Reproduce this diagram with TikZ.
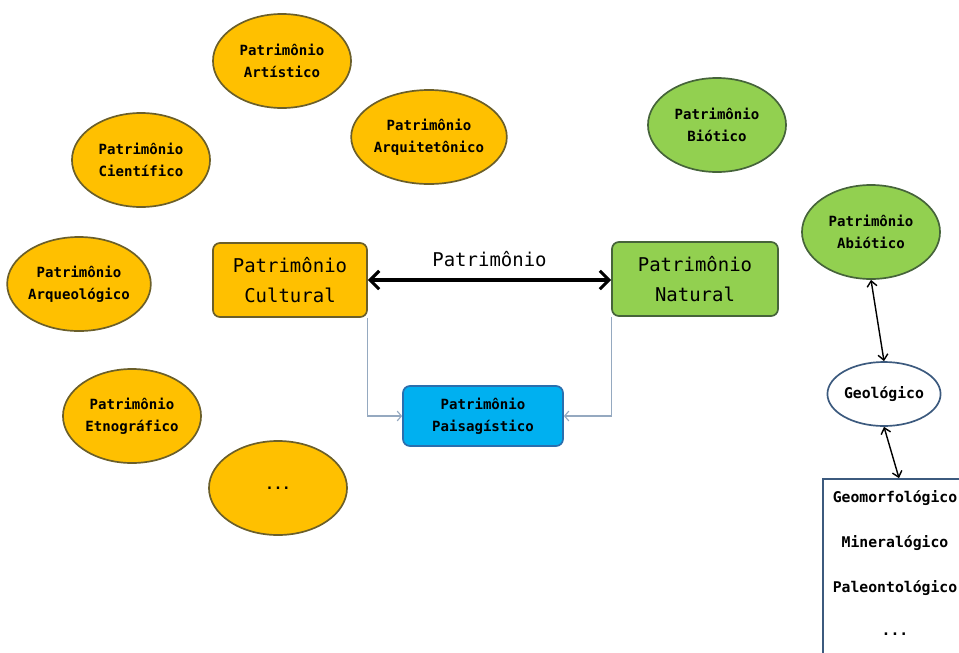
\documentclass[tikz,border=0pt]{standalone}
\usepackage{fontspec}
\newfontfamily\consfont{DejaVu Sans Mono}
\usetikzlibrary{shapes.geometric,arrows.meta}

\definecolor{laranja}{HTML}{FFC000}
\definecolor{bordaLaranja}{HTML}{6B5F2A}
\definecolor{verde}{HTML}{92D050}
\definecolor{bordaVerde}{HTML}{46643A}
\definecolor{azul}{HTML}{00B0F0}
\definecolor{bordaAzul}{HTML}{2A6FAE}
\definecolor{bordaGeo}{HTML}{3C5A7E}
\definecolor{ligacao}{HTML}{95A9C0}

\begin{document}
\begin{tikzpicture}[x=0.025cm, y=-0.025cm,
  elipse/.style={ellipse, draw=bordaLaranja, line width=1.2pt, fill=laranja,
    minimum width=3.45cm, minimum height=2.35cm, inner sep=0pt, align=center,
    font=\consfont\bfseries\fontsize{10}{16}\selectfont},
  elipseVerde/.style={elipse, draw=bordaVerde, fill=verde},
  caixa/.style={rectangle, rounded corners=5pt, line width=1.2pt, align=center,
    minimum height=1.85cm, font=\consfont\fontsize{13.5}{21}\selectfont},
  item/.style={font=\consfont\bfseries\fontsize{10.5}{12}\selectfont},
  dupla/.style={{Straight Barb[length=6.5pt,width=13pt]}-{Straight Barb[length=6.5pt,width=13pt]}, line width=2.2pt},
  simples/.style={{Straight Barb[length=4pt,width=7pt]}-{Straight Barb[length=4pt,width=7pt]}, line width=1pt},
  ligacaoSeta/.style={-{Straight Barb[length=3pt,width=7pt]}, draw=ligacao, line width=0.8pt}]
\useasboundingbox (0,0) rectangle (959,652);
\clip (0,0) rectangle (959,652);

% Patrimonio cultural
\node[elipse] (art) at (282,61) {Patrimônio\\Artístico};
\node[elipse] (cien) at (141,160) {Patrimônio\\Científico};
\node[elipse] (arq) at (429,137) {Patrimônio\\Arquitetônico};
\node[elipse] (arqueo) at (79,284) {Patrimônio\\Arqueológico};
\node[elipse] (etno) at (132,416) {Patrimônio\\Etnográfico};
\node[elipse] (outros) at (278,488) {...};
\node[caixa, draw=bordaLaranja, fill=laranja, minimum width=3.85cm] (cult) at (290,280) {Patrimônio\\Cultural};

% Patrimonio natural
\node[caixa, draw=bordaVerde, fill=verde, minimum width=4.15cm] (nat) at (695,279) {Patrimônio\\Natural};
\node[elipseVerde] (bio) at (717,125) {Patrimônio\\Biótico};
\node[elipseVerde] (abio) at (871,232) {Patrimônio\\Abiótico};
\node[ellipse, draw=bordaGeo, fill=white, line width=1.2pt, minimum width=2.7cm, minimum height=1.6cm,
  inner sep=0pt, font=\consfont\bfseries\fontsize{10.5}{12}\selectfont] (geo) at (884,394) {Geológico};

% Lista
\node[rectangle, draw=bordaGeo, line width=1.2pt, minimum width=3.8cm, minimum height=6cm] (lista) at (899,599) {};
\node[item] (geomorf) at (895,498) {Geomorfológico};
\node[item] (miner) at (895,543) {Mineralógico};
\node[item] (paleo) at (895,588) {Paleontológico};
\node[item] (mais) at (895,634) {...};

% Patrimonio paisagistico
\node[rectangle, rounded corners=5pt, draw=bordaAzul, fill=azul, line width=1.2pt, minimum width=4cm,
  minimum height=1.5cm, align=center, font=\consfont\bfseries\fontsize{10}{16}\selectfont] (pais) at (483,416) {Patrimônio\\Paisagístico};

% Ligacoes
\draw[dupla] (cult.east) -- node[above=5pt, font=\consfont\fontsize{13.5}{16}\selectfont] (rotulo) {Patrimônio} (cult.east -| nat.west);
\draw[ligacaoSeta] (cult.south east) |- (pais.west);
\draw[ligacaoSeta] (nat.south west) |- (pais.east);
\draw[simples] (abio.south) -- (geo.north);
\draw[simples] (geo.south) -- (lista.north);
\end{tikzpicture}
\end{document}
